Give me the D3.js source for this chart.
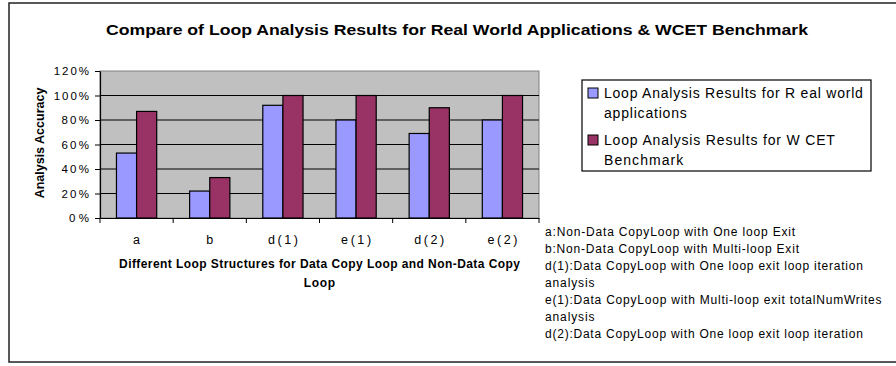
<!DOCTYPE html>
<html><head><meta charset="utf-8">
<script src="https://cdn.jsdelivr.net/npm/d3@7"></script>
<style>body{margin:0;background:#fff}svg{display:block}text{font-family:"Liberation Sans",Arial,sans-serif;fill:#000}</style>
</head><body><svg id="c" width="896" height="366"></svg>
<script>
const categories = ["a","b","d(1)","e(1)","d(2)","e(2)"];
const seriesNames = ["Loop Analysis Results for Real world applications","Loop Analysis Results for WCET Benchmark"];
const realWorld = [53,22,92,80,69,80];
const wcet = [87,33,100,100,90,100];
const yTicks = [0,20,40,60,80,100,120];
const title = "Compare of Loop Analysis Results for Real World Applications & WCET Benchmark";
const yTitle = "Analysis Accuracy";
const xTitleLines = ["Different Loop Structures for Data Copy Loop and Non-Data Copy","Loop"];
const legendLines = [["Loop Analysis Results for R eal world","applications"],["Loop Analysis Results for W CET","Benchmark"]];
const notes = ["a:Non-Data CopyLoop with One loop Exit","b:Non-Data CopyLoop with Multi-loop Exit","d(1):Data CopyLoop with One loop exit loop iteration","analysis","e(1):Data CopyLoop with Multi-loop exit totalNumWrites","analysis","d(2):Data CopyLoop with One loop exit loop iteration"];
const colors = ["#9999FF","#993366"];

const svg = d3.select("#c");
function stretch(sel, f){ sel.each(function(){ const w=this.getComputedTextLength(); d3.select(this).attr("textLength",w*f).attr("lengthAdjust","spacing"); }); }

svg.append("rect").attr("x",9).attr("y",3).attr("width",900).attr("height",359)
  .attr("fill","#fff").attr("stroke","#222").attr("stroke-width",1.5);

svg.append("text").attr("x",457).attr("y",35).attr("text-anchor","middle")
  .attr("font-size",14.5).attr("font-weight","bold").attr("textLength",702).attr("lengthAdjust","spacingAndGlyphs").text(title);

const L=100,R=539,T=71,B=218;
const x = d3.scaleBand().domain(categories).range([L,R]).paddingInner(0.45).paddingOuter(0.225);
const x1 = d3.scaleBand().domain([0,1]).range([0,x.bandwidth()]);
const y = d3.scaleLinear().domain([0,120]).range([B,T]);

svg.append("rect").attr("x",L).attr("y",T).attr("width",R-L).attr("height",B-T)
  .attr("fill","#C0C0C0").attr("stroke","#808080").attr("stroke-width",1);
svg.append("g").selectAll("line").data(yTicks.filter(d=>d>0&&d<120)).join("line")
  .attr("x1",L).attr("x2",R).attr("y1",d=>y(d)).attr("y2",d=>y(d)).attr("stroke","#000").attr("stroke-width",1.2);

const data = categories.map((c,i)=>({c,v:[realWorld[i],wcet[i]]}));
const g = svg.append("g");
data.forEach(d=>{
  d.v.forEach((v,j)=>{
    g.append("rect").attr("x",x(d.c)+x1(j)).attr("y",y(v)).attr("width",x1.bandwidth()).attr("height",B-y(v))
      .attr("fill",colors[j]).attr("stroke","#000").attr("stroke-width",1.2);
  });
});

const ya = svg.append("g").attr("transform",`translate(${L},0)`)
  .call(d3.axisLeft(y).tickValues(yTicks).tickFormat(d=>d+"%").tickSize(5).tickSizeOuter(0));
ya.select(".domain").attr("stroke","#000").attr("stroke-width",1.2);
ya.selectAll(".tick line").attr("stroke","#000");
ya.selectAll(".tick text").attr("font-size",11.5).attr("font-family","Liberation Sans").attr("x",-11).attr("fill","#222");
stretch(ya.selectAll(".tick text"),1.2);

const xa = svg.append("g").attr("transform",`translate(0,${B})`)
  .call(d3.axisBottom(x).tickSize(0).tickPadding(17));
xa.select(".domain").attr("stroke","#000").attr("stroke-width",1.2);
xa.selectAll(".tick text").attr("font-size",12.5).attr("font-family","Liberation Sans").attr("fill","#222");
stretch(xa.selectAll(".tick text"),1.35);
svg.append("g").selectAll("line").data(d3.range(categories.length+1)).join("line")
  .attr("x1",i=>i<categories.length?x(categories[i])-x.step()*x.paddingInner()/2:R)
  .attr("x2",i=>i<categories.length?x(categories[i])-x.step()*x.paddingInner()/2:R)
  .attr("y1",B).attr("y2",B+5).attr("stroke","#000");

svg.append("text").attr("transform","translate(44,143) rotate(-90)").attr("text-anchor","middle")
  .attr("font-size",12.5).attr("font-weight","bold").attr("fill","#222").text(yTitle);
const xt = svg.append("g");
xTitleLines.forEach((t,i)=>xt.append("text").attr("x",(L+R)/2).attr("y",268+i*19).attr("text-anchor","middle")
  .attr("font-size",12).attr("font-weight","bold").attr("fill","#222").text(t));
stretch(xt.selectAll("text"),1.07);

// legend
svg.append("rect").attr("x",582).attr("y",80).attr("width",289).attr("height",91)
  .attr("fill","#fff").attr("stroke","#000").attr("stroke-width",1.2);
const lg = svg.append("g");
legendLines.forEach((lines,j)=>{
  const y0 = 93 + j*47;
  lg.append("rect").attr("x",588).attr("y",y0-5).attr("width",10).attr("height",10)
    .attr("fill",colors[j]).attr("stroke","#000").attr("stroke-width",1);
  lines.forEach((t,k)=>lg.append("text").attr("x",604).attr("y",y0+5+k*20).attr("font-size",14).attr("fill","#222").text(t));
});
stretch(lg.selectAll("text"),1.12);

const nt = svg.append("g");
notes.forEach((t,i)=>nt.append("text").attr("x",545).attr("y",236+i*17).attr("font-size",12).attr("fill","#222").text(t));
stretch(nt.selectAll("text"),1.14);
</script></body></html>
